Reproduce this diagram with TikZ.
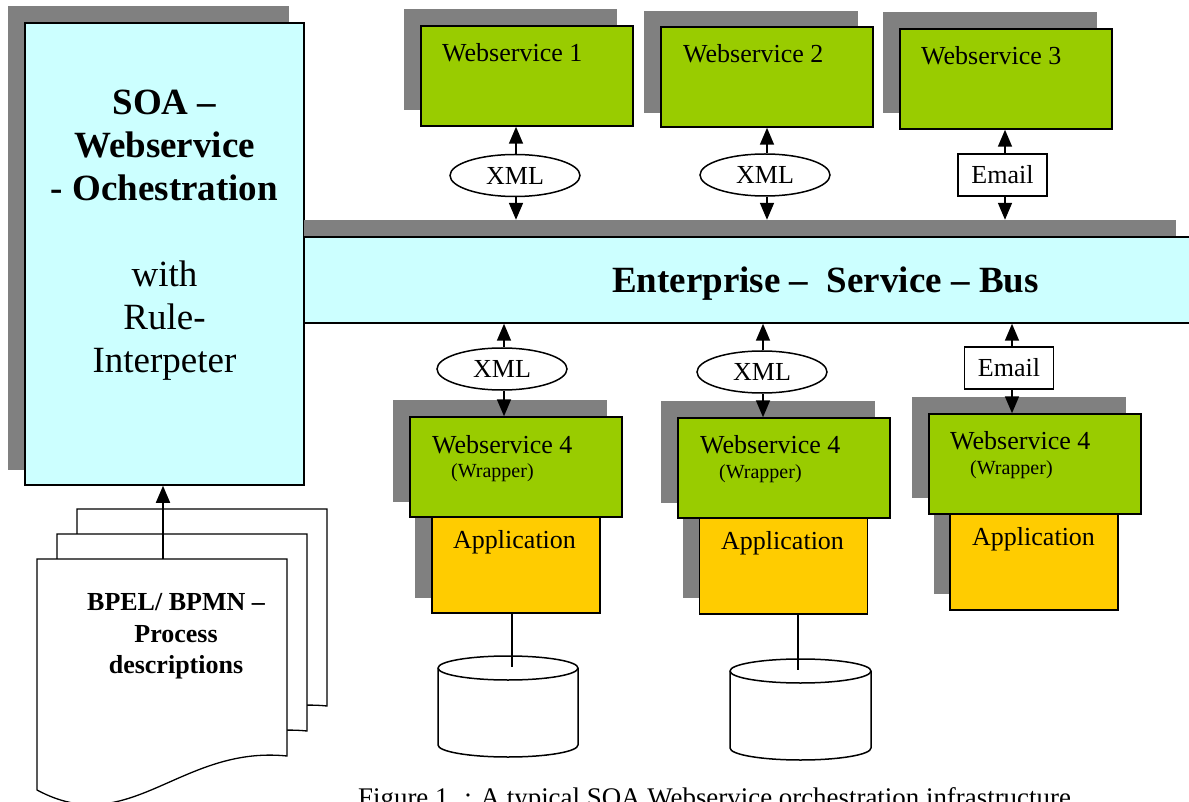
\documentclass[tikz,border=0pt]{standalone}
\usepackage{fontspec}
\setmainfont{Liberation Serif}
\usetikzlibrary{arrows.meta,shapes.geometric}
\definecolor{busc}{HTML}{CCFFFF}
\definecolor{wsc}{HTML}{99CC00}
\definecolor{appc}{HTML}{FFCC00}
\definecolor{shc}{HTML}{808080}
\tikzset{
  lw/.style={line width=1.5pt},
  shadowrect/.style={fill=shc, draw=none},
  wsbox/.style={rectangle, draw=black, lw, fill=wsc, inner sep=0pt, minimum width=212pt, minimum height=100pt},
  appbox/.style={rectangle, draw=black, lw, fill=appc, inner sep=0pt, minimum width=168pt, minimum height=96pt},
  xmlell/.style={ellipse, draw=black, lw, fill=white, inner sep=0pt, minimum width=130pt, minimum height=42pt, font=\fontsize{26}{30}\selectfont},
  mailbox/.style={rectangle, draw=black, lw, fill=white, inner sep=0pt, minimum width=89pt, minimum height=42pt, font=\fontsize{26}{30}\selectfont},
  arr/.style={line width=1.7pt, -{Triangle[length=17pt,width=14pt]}},
  conn/.style={line width=1.2pt},
  lbl/.style={anchor=base west, inner sep=0pt, font=\fontsize{26}{30}\selectfont},
  smlbl/.style={anchor=base west, inner sep=0pt, font=\fontsize{20}{24}\selectfont},
  bigb/.style={anchor=base, inner sep=0pt, font=\fontsize{37}{43}\selectfont\bfseries},
  bigr/.style={anchor=base, inner sep=0pt, font=\fontsize{37}{43}\selectfont},
  docb/.style={anchor=base, inner sep=0pt, font=\fontsize{26}{30}\selectfont\bfseries},
  docpage/.style={draw=black, line width=1.3pt, fill=white},
}
\begin{document}
\begin{tikzpicture}[x=1pt,y=-1pt]
\useasboundingbox (0,0) rectangle (1189,802);
\fill[white] (0,0) rectangle (1189,802);

% ---------- left orchestration box ----------
\fill[shadowrect] (8,6) rectangle (289,470);
\node[rectangle, draw=black, lw, fill=busc, inner sep=0pt, minimum width=279pt, minimum height=462pt] (soa) at (164.5,254) {};
\node[bigb] (soa1) at (164.5,115) {SOA –};
\node[bigb] (soa2) at (164.5,158) {Webservice};
\node[bigb] (soa3) at (164.5,201) {- Ochestration};
\node[bigr] (soa4) at (164.5,287) {with};
\node[bigr] (soa5) at (164.5,330) {Rule-};
\node[bigr] (soa6) at (164.5,373) {Interpeter};

% ---------- bus ----------
\node[rectangle, shadowrect, inner sep=0pt, minimum width=872pt, minimum height=17pt] (busshadow) at (740,228.5) {};
\node[rectangle, draw=black, lw, fill=busc, inner sep=0pt, minimum width=900pt, minimum height=86pt] (bus) at (754,280) {};
\node[anchor=base west, inner sep=0pt, font=\fontsize{37}{43}\selectfont\bfseries] (bustxt) at (612,293) {Enterprise –\ \ Service – Bus};

% ---------- top webservices ----------
\fill[shadowrect] (404,9) rectangle (617,110);
\node[wsbox] (ws1) at (527,76) {};
\node[lbl] (ws1t) at (442,62) {Webservice 1};

\fill[shadowrect] (644,11) rectangle (858,113);
\node[wsbox] (ws2) at (767,77) {};
\node[lbl] (ws2t) at (683,63) {Webservice 2};

\fill[shadowrect] (883,12) rectangle (1097,113);
\node[wsbox] (ws3) at (1006,79) {};
\node[lbl] (ws3t) at (921,65) {Webservice 3};

\node[xmlell] (x1) at (515,175.5) {XML};
\node[xmlell] (x2) at (765,175) {XML};
\node[mailbox] (m1) at (1002.5,175) {Email};

\draw[arr] (x1.north -| 516,0) -- (ws1.south -| 516,0);
\draw[arr] (x1.south -| 516,0) -- (busshadow.north -| 516,0);
\draw[arr] (x2.north -| 767,0) -- (ws2.south -| 767,0);
\draw[arr] (x2.south -| 767,0) -- (busshadow.north -| 767,0);
\draw[arr] (m1.north -| 1005,0) -- (ws3.south -| 1005,0);
\draw[arr] (m1.south -| 1005,0) -- (busshadow.north -| 1005,0);

% ---------- bottom connectors ----------
\node[xmlell] (x3) at (502,369) {XML};
\node[xmlell] (x4) at (762,372) {XML};
\node[mailbox] (m2) at (1009,368) {Email};

% ---------- bottom left column ----------
\fill[shadowrect] (393,400) rectangle (607,502);
\fill[shadowrect] (415,500) rectangle (583,598);
\node[appbox] (app1) at (516,565) {};
\node[wsbox] (ws4a) at (516,467) {};
\node[lbl] (ws4at) at (432,453) {Webservice 4};
\node[smlbl] (ws4aw) at (451,477) {(Wrapper)};
\node[lbl] (app1t) at (453,548) {Application};

% ---------- bottom middle column ----------
\fill[shadowrect] (661,401) rectangle (875,503);
\fill[shadowrect] (683,501) rectangle (851,598);
\node[appbox] (app2) at (783.5,566) {};
\node[wsbox] (ws4b) at (784,468) {};
\node[lbl] (ws4bt) at (700,453) {Webservice 4};
\node[smlbl] (ws4bw) at (719,478) {(Wrapper)};
\node[lbl] (app2t) at (721,549) {Application};

% ---------- bottom right column ----------
\fill[shadowrect] (912,397) rectangle (1126,498);
\fill[shadowrect] (934,497) rectangle (1102,594);
\node[appbox] (app3) at (1034,562) {};
\node[wsbox] (ws4c) at (1035,464) {};
\node[lbl] (ws4ct) at (950,449) {Webservice 4};
\node[smlbl] (ws4cw) at (970,474) {(Wrapper)};
\node[lbl] (app3t) at (972,545) {Application};

\draw[arr] (x3.north -| 504,0) -- (bus.south -| 504,0);
\draw[arr] (x3.south -| 504,0) -- (ws4a.north -| 504,0);
\draw[arr] (x4.north -| 763,0) -- (bus.south -| 763,0);
\draw[arr] (x4.south -| 763,0) -- (ws4b.north -| 763,0);
\draw[arr] (m2.north -| 1012,0) -- (bus.south -| 1012,0);
\draw[arr] (m2.south -| 1012,0) -- (ws4c.north -| 1012,0);

% ---------- databases ----------
\draw[lw, fill=white] (438,668) -- (438,745) arc[start angle=180, end angle=360, x radius=70, y radius=-12] -- (578,668) arc[start angle=0, end angle=-180, x radius=70, y radius=12] -- cycle;
\draw[lw] (438,668) arc[start angle=180, end angle=360, x radius=70, y radius=-12];
\coordinate (db1) at (512,667);
\draw[conn] (app1.south -| db1) -- (db1);

\draw[lw, fill=white] (730,671) -- (730,748) arc[start angle=180, end angle=360, x radius=70.5, y radius=-12] -- (871,671) arc[start angle=0, end angle=-180, x radius=70.5, y radius=12] -- cycle;
\draw[lw] (730,671) arc[start angle=180, end angle=360, x radius=70.5, y radius=-12];
\coordinate (db2) at (798,670);
\draw[conn] (app2.south -| db2) -- (db2);

% ---------- document stack ----------
\foreach \dx/\dy in {40/-50, 20/-25, 0/0}{
  \begin{scope}[shift={(\dx,\dy)}]
    \draw[docpage] (37,559) -- (287,559) -- (287,756) .. controls (180,745) and (130,840) .. (37,790) -- cycle;
  \end{scope}
}
\coordinate (docfront) at (163,559);
\draw[arr] (docfront) -- (soa.south -| docfront);
\node[docb] (doc1) at (176,610) {BPEL/ BPMN –};
\node[docb] (doc2) at (176,642) {Process};
\node[docb] (doc3) at (176,673) {descriptions};

% ---------- caption ----------
\node[anchor=base west, inner sep=0pt, font=\fontsize{26.9}{30}\selectfont] (caption) at (358,806) {Figure 1. : A typical SOA Webservice orchestration infrastructure};
\end{tikzpicture}
\end{document}
